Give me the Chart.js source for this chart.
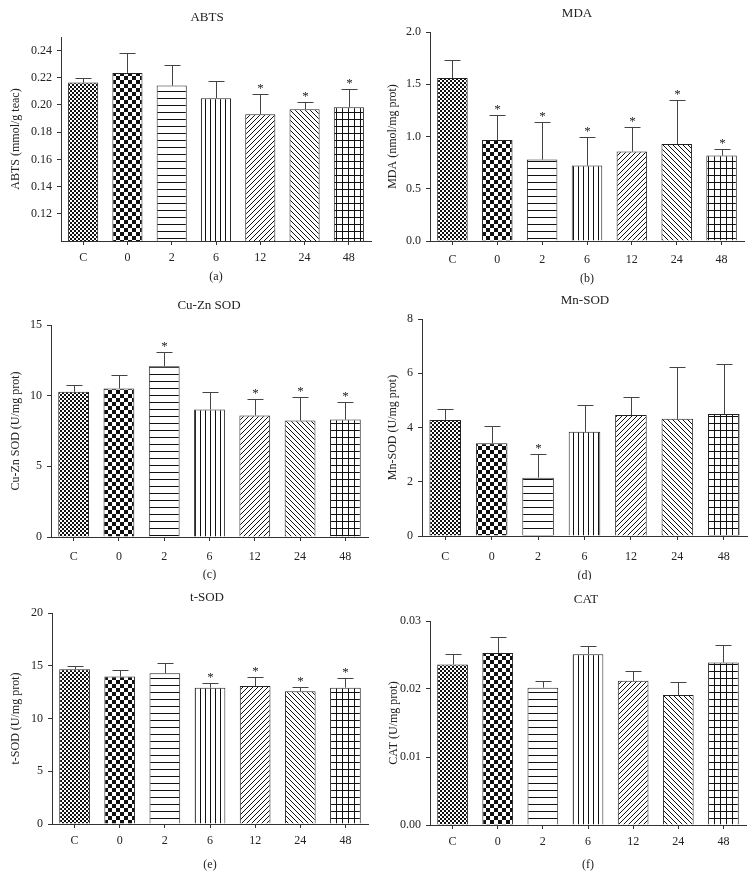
<!DOCTYPE html>
<html>
<head>
<meta charset="utf-8">
<script src="https://cdn.jsdelivr.net/npm/chart.js@4/dist/chart.umd.min.js"></script>
<style>
  body { margin: 0; background: #fff; }
  #fig { position: relative; width: 756px; height: 889px; }
  #fig canvas { position: absolute; }
</style>
</head>
<body>
<div id="fig"></div>
<script>
// groups (hours after treatment, C = control)
const categories = ['C', '0', '2', '6', '12', '24', '48'];

// (a) ABTS
const abtsMean = [0.2165, 0.2236, 0.2143, 0.2050, 0.1932, 0.1969, 0.1983];
const abtsSD = [0.0035, 0.0149, 0.0150, 0.0125, 0.0152, 0.0051, 0.0133];
const abtsSig = [0, 0, 0, 0, 1, 1, 1];
const abtsTicks = [0.12, 0.14, 0.16, 0.18, 0.20, 0.22, 0.24];

// (b) MDA
const mdaMean = [1.56, 0.967, 0.779, 0.722, 0.856, 0.928, 0.817];
const mdaSD = [0.176, 0.243, 0.364, 0.270, 0.239, 0.421, 0.063];
const mdaSig = [0, 1, 1, 1, 1, 1, 1];
const mdaTicks = [0, 0.5, 1.0, 1.5, 2.0];

// (c) Cu-Zn SOD
const cuznMean = [10.28, 10.51, 12.09, 9.02, 8.60, 8.24, 8.31];
const cuznSD = [0.47, 0.95, 1.00, 1.21, 1.13, 1.70, 1.21];
const cuznSig = [0, 0, 1, 0, 1, 1, 1];
const cuznTicks = [0, 5, 10, 15];

// (d) Mn-SOD
const mnMean = [4.28, 3.42, 2.15, 3.84, 4.46, 4.32, 4.50];
const mnSD = [0.41, 0.64, 0.87, 0.98, 0.68, 1.90, 1.83];
const mnSig = [0, 0, 1, 0, 0, 0, 0];
const mnTicks = [0, 2, 4, 6, 8];

// (e) t-SOD
const tsodMean = [14.66, 13.97, 14.28, 12.92, 13.08, 12.58, 12.92];
const tsodSD = [0.35, 0.63, 1.01, 0.41, 0.82, 0.41, 0.92];
const tsodSig = [0, 0, 0, 1, 1, 1, 1];
const tsodTicks = [0, 5, 10, 15, 20];

// (f) CAT
const catMean = [0.0236, 0.0253, 0.0202, 0.0251, 0.0212, 0.0191, 0.0239];
const catSD = [0.0015, 0.0024, 0.0010, 0.0012, 0.0014, 0.0019, 0.0025];
const catSig = [0, 0, 0, 0, 0, 0, 0];
const catTicks = [0, 0.01, 0.02, 0.03];

const FONT = 'Liberation Serif, Times New Roman, serif';
const INK = '#222';
const LINE = '#333';

// hatch fills, one per group
function makeTile(w, h, draw) {
    const c = document.createElement('canvas');
    c.width = w; c.height = h;
    const g = c.getContext('2d');
    g.fillStyle = '#fff';
    g.fillRect(0, 0, w, h);
    g.fillStyle = '#111';
    g.strokeStyle = '#111';
    g.lineWidth = 1;
    draw(g, w, h);
    return g.createPattern(c, 'repeat');
}
function buildPatterns() {
    const fine = makeTile(4, 4, g => { g.fillRect(0, 0, 2, 2); g.fillRect(2, 2, 2, 2); });
    const coarse = makeTile(8, 8, g => { g.fillRect(0, 0, 4, 4); g.fillRect(4, 4, 4, 4); });
    const horiz = makeTile(4, 7, g => { g.fillRect(0, 0, 4, 1); });
    const vert = makeTile(5, 4, g => { g.fillRect(0, 0, 1, 4); });
    const fwd = makeTile(5, 5, (g, s) => {
        g.beginPath();
        for (let k = -s; k <= s; k += s) { g.moveTo(k, s); g.lineTo(k + s, 0); }
        g.stroke();
    });
    const back = makeTile(5, 5, (g, s) => {
        g.beginPath();
        for (let k = -s; k <= s; k += s) { g.moveTo(k, 0); g.lineTo(k + s, s); }
        g.stroke();
    });
    const grid = makeTile(6, 7, g => { g.fillRect(0, 0, 6, 1); g.fillRect(0, 0, 1, 7); });
    return [fine, coarse, horiz, vert, fwd, back, grid];
}
const fills = buildPatterns();

const panels = [
    { tag: 'a', title: 'ABTS', yTitle: 'ABTS (mmol/g teac)', mean: abtsMean, sd: abtsSD, sig: abtsSig, ticks: abtsTicks, dec: 2, min: 0.10, max: 0.25,
      x: 0, y: 0, h: 290, left: 61, right: 371, top: 37, bottom: 241, titleX: 207, titleY: 18, labY: 257, subY: 277, yTitleX: 16 },
    { tag: 'b', title: 'MDA', yTitle: 'MDA (nmol/mg prot)', mean: mdaMean, sd: mdaSD, sig: mdaSig, ticks: mdaTicks, dec: 1, min: 0, max: 2,
      x: 378, y: 0, h: 290, left: 52, right: 366, top: 32, bottom: 241, titleX: 199, titleY: 14, labY: 259, subY: 279, yTitleX: 15 },
    { tag: 'c', title: 'Cu-Zn SOD', yTitle: 'Cu-Zn SOD (U/mg prot)', mean: cuznMean, sd: cuznSD, sig: cuznSig, ticks: cuznTicks, dec: 0, min: 0, max: 15,
      x: 0, y: 290, h: 290, left: 51, right: 368, top: 35, bottom: 247, titleX: 209, titleY: 16, labY: 266, subY: 285, yTitleX: 16 },
    { tag: 'd', title: 'Mn-SOD', yTitle: 'Mn-SOD (U/mg prot)', mean: mnMean, sd: mnSD, sig: mnSig, ticks: mnTicks, dec: 0, min: 0, max: 8,
      x: 378, y: 290, h: 290, left: 44, right: 369, top: 29, bottom: 246, titleX: 207, titleY: 11, labY: 266, subY: 286, yTitleX: 15 },
    { tag: 'e', title: 't-SOD', yTitle: 't-SOD (U/mg prot)', mean: tsodMean, sd: tsodSD, sig: tsodSig, ticks: tsodTicks, dec: 0, min: 0, max: 20,
      x: 0, y: 580, h: 309, left: 52, right: 368, top: 33, bottom: 244, titleX: 207, titleY: 18, labY: 260, subY: 285, yTitleX: 16 },
    { tag: 'f', title: 'CAT', yTitle: 'CAT (U/mg prot)', mean: catMean, sd: catSD, sig: catSig, ticks: catTicks, dec: 2, min: 0, max: 0.03,
      x: 378, y: 580, h: 309, left: 52, right: 368, top: 41, bottom: 245, titleX: 208, titleY: 20, labY: 261, subY: 285, yTitleX: 16 }
];

// error bars, asterisks and panel heading
function extrasPlugin(p) {
    return {
        id: 'extras_' + p.tag,
        afterDatasetsDraw(chart) {
            const ctx = chart.ctx;
            const xs = chart.scales.x, ys = chart.scales.y;
            ctx.save();
            ctx.strokeStyle = '#444';
            ctx.lineWidth = 1;
            p.mean.forEach((m, i) => {
                const x = Math.round(xs.getPixelForValue(i)) + 0.5;
                const yb = ys.getPixelForValue(m);
                const yt = Math.round(ys.getPixelForValue(m + p.sd[i])) + 0.5;
                ctx.beginPath();
                ctx.moveTo(x, yb);
                ctx.lineTo(x, yt);
                ctx.moveTo(x - 8, yt);
                ctx.lineTo(x + 8, yt);
                ctx.stroke();
                if (p.sig[i]) {
                    ctx.fillStyle = INK;
                    ctx.font = '13px ' + FONT;
                    ctx.textAlign = 'center';
                    ctx.textBaseline = 'middle';
                    ctx.fillText('*', x, yt - 6);
                }
            });
            ctx.fillStyle = INK;
            ctx.font = '13px ' + FONT;
            ctx.textAlign = 'center';
            ctx.textBaseline = 'middle';
            ctx.fillText(p.title, p.titleX, p.titleY);
            ctx.restore();
        }
    };
}

const fig = document.getElementById('fig');
panels.forEach(p => {
    const cv = document.createElement('canvas');
    cv.width = 378; cv.height = p.h;
    cv.style.left = p.x + 'px';
    cv.style.top = p.y + 'px';
    cv.style.width = '378px';
    cv.style.height = p.h + 'px';
    fig.appendChild(cv);

    const font = { family: FONT, size: 12 };
    new Chart(cv.getContext('2d'), {
        type: 'bar',
        data: {
            labels: categories,
            datasets: [{
                data: p.mean,
                backgroundColor: fills,
                borderColor: '#222',
                borderWidth: 1,
                barPercentage: 0.68,
                categoryPercentage: 1
            }]
        },
        options: {
            responsive: false,
            animation: false,
            devicePixelRatio: 1,
            layout: { padding: { top: p.top, right: 378 - p.right, left: 0, bottom: 0 } },
            plugins: { legend: { display: false }, tooltip: { enabled: false }, title: { display: false } },
            scales: {
                x: {
                    grid: { drawOnChartArea: false, offset: false, tickLength: 4, color: LINE },
                    border: { color: LINE },
                    ticks: { color: INK, font: font, padding: p.labY - p.bottom - 10, maxRotation: 0 },
                    title: { display: true, text: '(' + p.tag + ')', color: INK, font: font, padding: { top: 0, bottom: p.h - p.subY - 7 } },
                    afterFit: s => { s.height = p.h - p.bottom; }
                },
                y: {
                    min: p.min,
                    max: p.max,
                    afterBuildTicks: s => { s.ticks = p.ticks.map(v => ({ value: v })); },
                    grid: { drawOnChartArea: false, tickLength: 4, color: LINE },
                    border: { color: LINE },
                    ticks: { color: INK, font: font, padding: 5, callback: v => Number(v).toFixed(p.dec) },
                    title: { display: true, text: p.yTitle, color: INK, font: font, padding: { top: p.yTitleX - 7, bottom: 0 } },
                    afterFit: s => { s.width = p.left; }
                }
            }
        },
        plugins: [extrasPlugin(p)]
    });
});
</script>
</body>
</html>
